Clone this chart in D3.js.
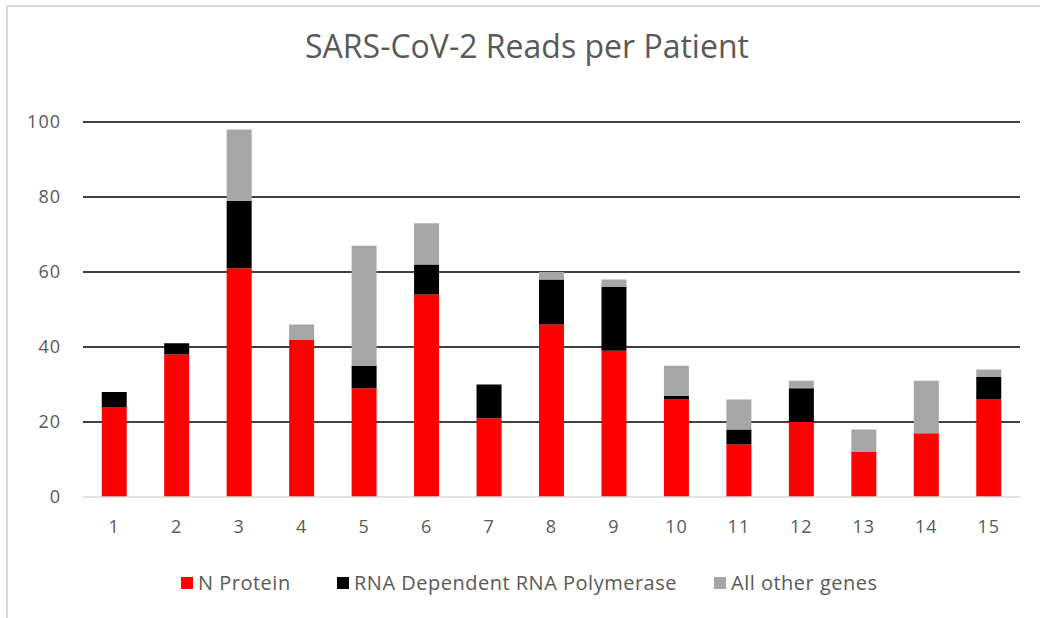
<!DOCTYPE html>
<html>
<head>
<meta charset="utf-8">
<script src="https://cdn.jsdelivr.net/npm/d3@7"></script>
<style>
  body { margin: 0; background: #fff; }
  text { font-family: "Open Sans", "Noto Sans", sans-serif; fill: #595959; }
</style>
</head>
<body>
<div id="chart"></div>
<script>
// patients 1..15
const patients = ["1", "2", "3", "4", "5", "6", "7", "8", "9", "10", "11", "12", "13", "14", "15"];
const nProtein = [24, 38, 61, 42, 29, 54, 21, 46, 39, 26, 14, 20, 12, 17, 26];
const rdrp = [4, 3, 18, 0, 6, 8, 9, 12, 17, 1, 4, 9, 0, 0, 6];
const otherGenes = [0, 0, 19, 4, 32, 11, 0, 2, 2, 8, 8, 2, 6, 14, 2];
const yTicks = [0, 20, 40, 60, 80, 100];
const seriesNames = ["N Protein", "RNA Dependent RNA Polymerase", "All other genes"];
const seriesColors = ["#ff0000", "#000000", "#a6a6a6"];

const width = 1040;
const height = 618;
const margin = { top: 122, right: 20, bottom: 121, left: 83 };

const svg = d3.select("#chart")
  .append("svg")
  .attr("width", width)
  .attr("height", height);

// chart frame (only top + left edges visible)
svg.append("path")
  .attr("d", `M7,${height} V6 H${width}`)
  .attr("fill", "none")
  .attr("stroke", "#d9d9d9")
  .attr("stroke-width", 2);

const rows = patients.map((p, i) => ({
  patient: p,
  n: nProtein[i],
  rdrp: rdrp[i],
  other: otherGenes[i]
}));

const stack = d3.stack().keys(["n", "rdrp", "other"]);
const stacked = stack(rows);

const x = d3.scaleBand()
  .domain(patients)
  .range([margin.left, width - margin.right])
  .paddingInner(0.6)
  .paddingOuter(0.3);

const y = d3.scaleLinear()
  .domain([0, 100])
  .range([height - margin.bottom, margin.top]);

// gridlines
svg.append("g")
  .selectAll("line")
  .data(yTicks.filter(d => d > 0))
  .enter()
  .append("line")
  .attr("x1", margin.left)
  .attr("x2", width - margin.right)
  .attr("y1", d => y(d))
  .attr("y2", d => y(d))
  .attr("stroke", "#000")
  .attr("stroke-width", 1.4);

// bars
svg.append("g")
  .selectAll("g")
  .data(stacked)
  .enter()
  .append("g")
  .attr("fill", (d, i) => seriesColors[i])
  .selectAll("rect")
  .data(d => d)
  .enter()
  .append("rect")
  .attr("x", d => x(d.data.patient))
  .attr("y", d => y(d[1]))
  .attr("width", x.bandwidth())
  .attr("height", d => y(d[0]) - y(d[1]));

// baseline
svg.append("line")
  .attr("x1", margin.left)
  .attr("x2", width - margin.right)
  .attr("y1", y(0))
  .attr("y2", y(0))
  .attr("stroke", "#d9d9d9")
  .attr("stroke-width", 1.5);

// y labels
svg.append("g")
  .selectAll("text")
  .data(yTicks)
  .enter()
  .append("text")
  .attr("x", 61)
  .attr("y", d => y(d))
  .attr("dy", "0.35em")
  .style("text-anchor", "end")
  .style("font-size", "18px")
  .style("letter-spacing", "1px")
  .text(d => d);

// x labels
svg.append("g")
  .selectAll("text")
  .data(patients)
  .enter()
  .append("text")
  .attr("x", d => x(d) + x.bandwidth() / 2)
  .attr("y", y(0) + 36)
  .style("text-anchor", "middle")
  .style("font-size", "18px")
  .style("letter-spacing", "1px")
  .text(d => d);

// title
svg.append("text")
  .attr("x", 527)
  .attr("y", 58)
  .style("text-anchor", "middle")
  .style("font-size", "32px")
  .text("SARS-CoV-2 Reads per Patient");

// legend
const legendX = [181, 337, 714];
const legend = svg.append("g");
legend.selectAll("rect")
  .data(seriesNames)
  .enter()
  .append("rect")
  .attr("x", (d, i) => legendX[i])
  .attr("y", 577)
  .attr("width", 12)
  .attr("height", 12)
  .attr("fill", (d, i) => seriesColors[i]);

legend.selectAll("text")
  .data(seriesNames)
  .enter()
  .append("text")
  .attr("x", (d, i) => legendX[i] + 17)
  .attr("y", 590)
  .style("font-size", "20px")
  .style("letter-spacing", "0.5px")
  .text(d => d);
</script>
</body>
</html>
